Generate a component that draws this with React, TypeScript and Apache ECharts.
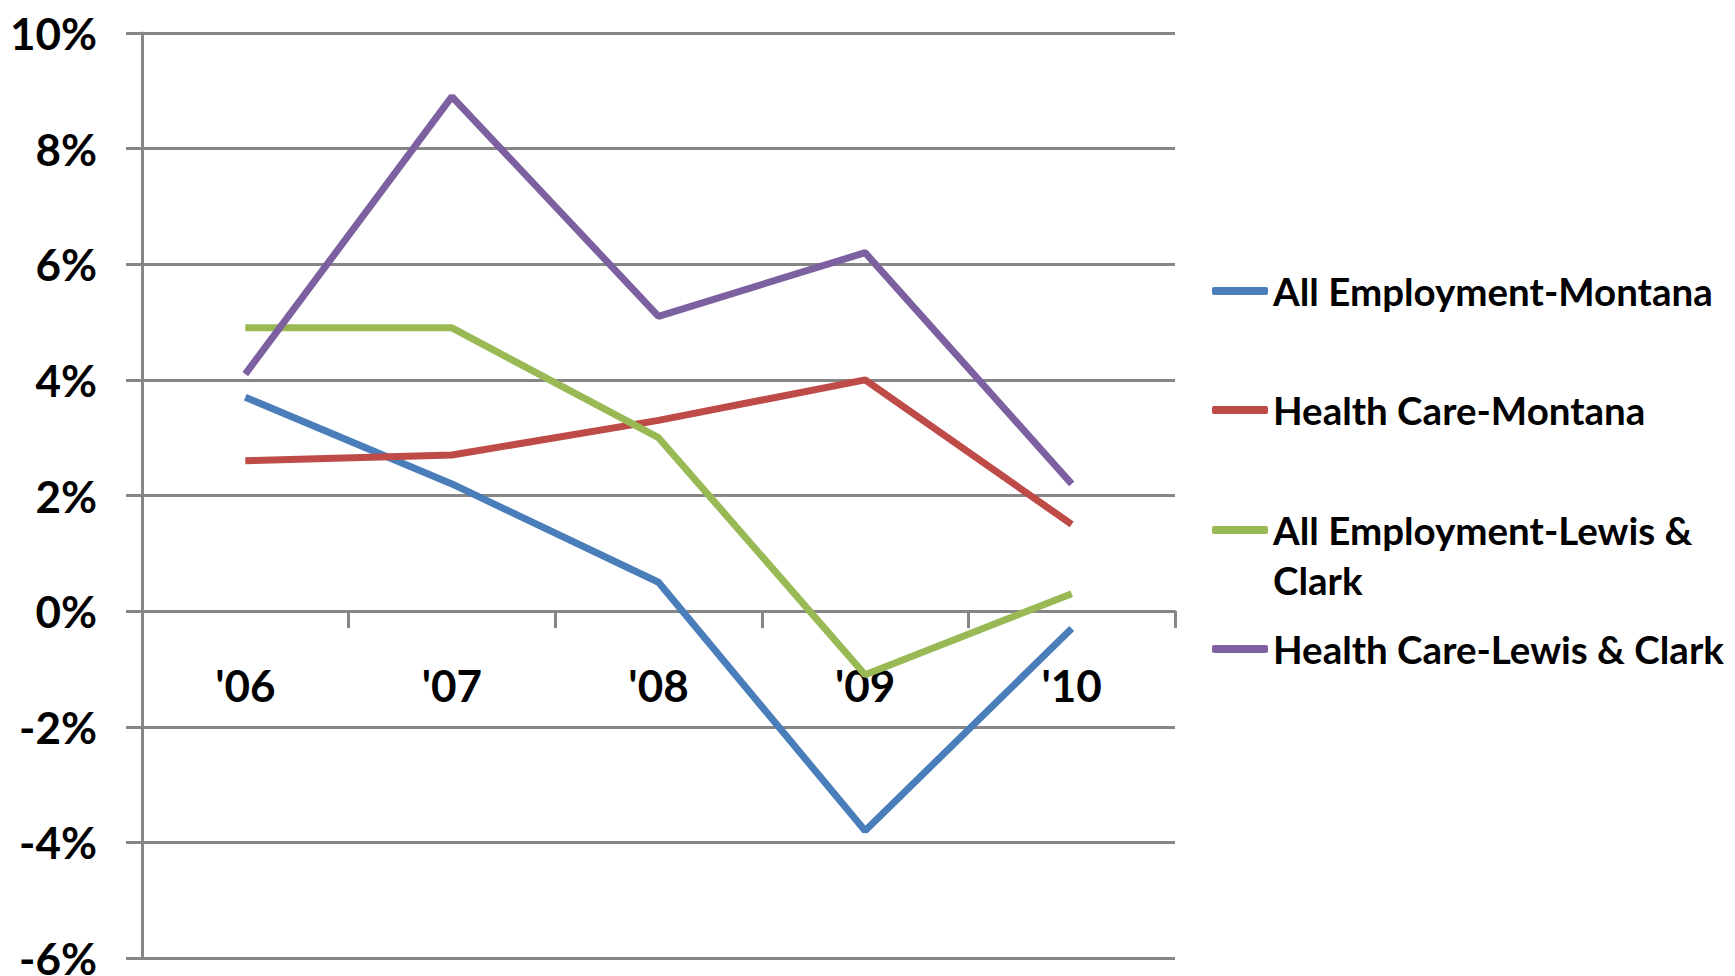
import React, { useEffect, useRef } from "react";
import * as echarts from "echarts";

const categories = ["'06", "'07", "'08", "'09", "'10"];
const allEmploymentMontana = [3.7, 2.2, 0.5, -3.8, -0.3];
const healthCareMontana = [2.6, 2.7, 3.3, 4.0, 1.5];
const allEmploymentLewisClark = [4.9, 4.9, 3.0, -1.1, 0.3];
const healthCareLewisClark = [4.1, 8.9, 5.1, 6.2, 2.2];
const seriesNames = [
  "All Employment-Montana",
  "Health Care-Montana",
  "All Employment-Lewis & Clark",
  "Health Care-Lewis & Clark",
];
const seriesColors = ["#4A7EBB", "#BE4B48", "#98B954", "#7D60A0"];
const yMin = -6;
const yMax = 10;
const yInterval = 2;

const FONT = "Lato, 'Liberation Sans', sans-serif";
const AXIS_FS = 44;
const LEG_FS = 38.5;
const GRID = "#868686";

const W = 1735;
const H = 976;
const GRID_TOP = 33;
const GRID_BOTTOM = 18;

export default function App() {
  const ref = useRef<HTMLDivElement>(null);
  useEffect(() => {
    if (!ref.current) return;
    const chart = echarts.init(ref.current, undefined, { renderer: "svg" });
    const data = [allEmploymentMontana, healthCareMontana, allEmploymentLewisClark, healthCareLewisClark];
    const legendCenters = [291, 410, 530, 649];
    const plotH = H - GRID_TOP - GRID_BOTTOM;
    const zeroFromBottom = ((0 - yMin) / (yMax - yMin)) * plotH;
    const axisText = { fontFamily: FONT, fontWeight: "bold" as const, fontSize: AXIS_FS, color: "#000", lineHeight: AXIS_FS };
    const legText = { fontFamily: FONT, fontWeight: "bold" as const, fontSize: LEG_FS, color: "#000", lineHeight: 50 };
    chart.setOption({
      animation: false,
      backgroundColor: "#fff",
      grid: { left: 142, right: 560, top: GRID_TOP, bottom: GRID_BOTTOM, containLabel: false, outerBoundsMode: "none" },
      xAxis: {
        type: "category",
        data: categories,
        boundaryGap: true,
        offset: -zeroFromBottom,
        axisLine: { onZero: false, lineStyle: { color: GRID, width: 3 } },
        axisTick: { show: true, interval: 0, length: 17, lineStyle: { color: GRID, width: 3 } },
        axisLabel: { interval: 0, margin: 52, ...axisText },
        splitLine: { show: false },
      },
      yAxis: {
        type: "value",
        min: yMin,
        max: yMax,
        interval: yInterval,
        axisLine: { show: true, lineStyle: { color: GRID, width: 3 } },
        axisTick: { show: true, length: 16, lineStyle: { color: GRID, width: 3 } },
        axisLabel: { formatter: "{value}%", margin: 45, ...axisText },
        splitLine: { show: true, lineStyle: { color: GRID, width: 3 } },
      },
      legend: seriesNames.map((n, i) => ({
        data: [n],
        orient: "vertical",
        left: 1212,
        top: legendCenters[i] - 25,
        padding: 0,
        icon: "roundRect",
        itemWidth: 56,
        itemHeight: 8,
        textStyle: legText,
        formatter: i === 2 ? () => "All Employment-Lewis &" : undefined,
      })),
      graphic: [
        {
          type: "text",
          left: 1273,
          top: 580 - 25,
          style: { text: "Clark", font: `bold ${LEG_FS}px ${FONT}`, fill: "#000", lineHeight: 50 },
        },
      ],
      series: data.map((d, i) => ({
        name: seriesNames[i],
        type: "line",
        data: d,
        symbol: "none",
        lineStyle: { color: seriesColors[i], width: 7 },
        itemStyle: { color: seriesColors[i] },
      })),
    });
    return () => chart.dispose();
  }, []);
  return <div ref={ref} style={{ position: "fixed", left: 0, top: 0, width: W, height: H }} />;
}
